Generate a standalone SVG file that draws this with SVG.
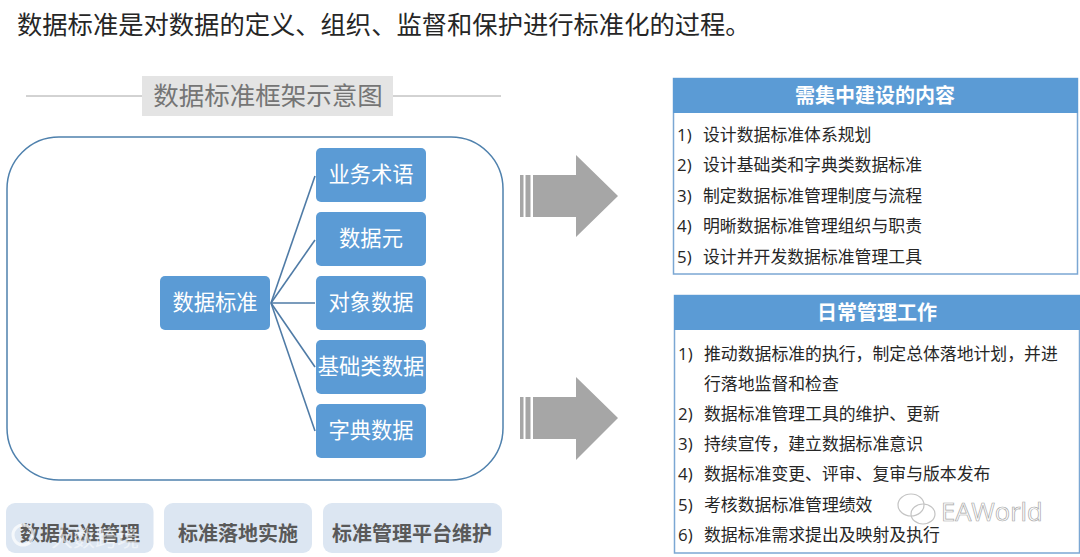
<svg xmlns="http://www.w3.org/2000/svg" width="1080" height="557" viewBox="0 0 1080 557">
<style>
text{font-family:"Noto Sans CJK SC","Noto Sans",sans-serif}
.n rect{fill:#5b9bd5;stroke:none}
.n text{fill:#fff;font-size:21.3px;text-anchor:middle}
.c line{stroke:#4f7ba6;stroke-width:1.6}
.b rect{fill:#dce6f2}
.b text{fill:#595959;font-size:20px;font-weight:700;text-anchor:middle}
.a{fill:#a6a6a6}
.p .h{fill:#5b9bd5}
.p .f{fill:#fff;stroke:#7ba7d3;stroke-width:1.5}
.p .t{fill:#fff;font-size:20px;font-weight:700;text-anchor:middle}
.l{fill:#262626;font-size:16.85px}
.d{font-family:"Open Sans",sans-serif}
.w{fill:none;stroke:#c4c4c4;stroke-width:1.2}
</style>
<rect width="1080" height="557" fill="#fff"/>
<text x="17" y="34" font-size="25.3" fill="#262626">数据标准是对数据的定义、组织、监督和保护进行标准化的过程。</text>
<g id="heading">
<line x1="26" y1="96" x2="501" y2="96" stroke="#a6a6a6" stroke-width="1"/>
<rect x="142" y="76" width="251" height="40" fill="#e4e4e4"/>
<text x="268" y="105" font-size="25.500" fill="#757575" text-anchor="middle">数据标准框架示意图</text>
</g>
<rect id="container" x="7" y="137" width="496" height="343" rx="52" fill="#fff" stroke="#4f81ad" stroke-width="1.5"/>
<g id="connectors" class="c">
<line x1="271" y1="303" x2="315" y2="176"/>
<line x1="271" y1="303" x2="315" y2="240"/>
<line x1="271" y1="303" x2="315" y2="303"/>
<line x1="271" y1="303" x2="315" y2="367"/>
<line x1="271" y1="303" x2="315" y2="431"/>
</g>
<g id="root" class="n"><rect x="160" y="276" width="110" height="54" rx="5"/><text x="215" y="310">数据标准</text></g>
<g id="term" class="n"><rect x="316" y="148" width="110" height="54" rx="5"/><text x="371" y="182">业务术语</text></g>
<g id="element" class="n"><rect x="316" y="212" width="110" height="54" rx="5"/><text x="371" y="246">数据元</text></g>
<g id="object" class="n"><rect x="316" y="276" width="110" height="54" rx="5"/><text x="371" y="310">对象数据</text></g>
<g id="basic" class="n"><rect x="316" y="340" width="110" height="54" rx="5"/><text x="371" y="374">基础类数据</text></g>
<g id="dict" class="n"><rect x="316" y="404" width="110" height="54" rx="5"/><text x="371" y="438">字典数据</text></g>
<g id="arrow1" class="a"><rect x="520" y="175" width="3.5" height="42"/><rect x="525.5" y="175" width="5" height="42"/><path d="M533 175H576V155L618 196L576 237V217H533Z"/></g>
<g id="arrow2" class="a"><rect x="520" y="397" width="3.5" height="42"/><rect x="525.5" y="397" width="5" height="42"/><path d="M533 397H576V377L618 418L576 460V439H533Z"/></g>
<g id="btn1" class="b"><rect x="6" y="503" width="147.500" height="50" rx="9"/><text x="80" y="541">数据标准管理</text></g>
<g id="btn2" class="b"><rect x="164" y="503" width="148" height="50" rx="9"/><text x="238" y="541">标准落地实施</text></g>
<g id="btn3" class="b"><rect x="323" y="503" width="179" height="50" rx="9"/><text x="412" y="541">标准管理平台维护</text></g>
<g id="panel1" class="p">
<rect class="f" x="673.500" y="78.500" width="404" height="195.500"/>
<rect class="h" x="673" y="78" width="405" height="35"/>
<text class="t" x="875" y="103">需集中建设的内容</text>
<g class="l">
<text class="d" x="677" y="140.500">1)</text><text x="703" y="140.500">设计数据标准体系规划</text>
<text class="d" x="677" y="171">2)</text><text x="703" y="171">设计基础类和字典类数据标准</text>
<text class="d" x="677" y="201.500">3)</text><text x="703" y="201.500">制定数据标准管理制度与流程</text>
<text class="d" x="677" y="232">4)</text><text x="703" y="232">明晰数据标准管理组织与职责</text>
<text class="d" x="677" y="262.500">5)</text><text x="703" y="262.500">设计并开发数据标准管理工具</text>
</g>
</g>
<g id="panel2" class="p">
<rect class="f" x="674.500" y="295.500" width="405" height="257.500"/>
<rect class="h" x="674" y="295" width="406" height="35"/>
<text class="t" x="877" y="320">日常管理工作</text>
<g class="l">
<text class="d" x="678" y="359.500">1)</text><text x="704" y="359.500">推动数据标准的执行，制定总体落地计划，并进</text>
<text x="704" y="389.500">行落地监督和检查</text>
<text class="d" x="678" y="419.500">2)</text><text x="704" y="419.500">数据标准管理工具的维护、更新</text>
<text class="d" x="678" y="449.500">3)</text><text x="704" y="449.500">持续宣传，建立数据标准意识</text>
<text class="d" x="678" y="480">4)</text><text x="704" y="480">数据标准变更、评审、复审与版本发布</text>
<text class="d" x="678" y="510.500">5)</text><text x="704" y="510.500">考核数据标准管理绩效</text>
<text class="d" x="678" y="541">6)</text><text x="704" y="541">数据标准需求提出及映射及执行</text>
</g>
</g>
<g id="watermark-right">
<ellipse class="w" cx="911" cy="505" rx="13" ry="11"/>
<ellipse class="w" cx="923" cy="514" rx="12" ry="10" fill="#fff"/>
<text x="941" y="521" font-size="25.500" fill="#fff" stroke="#a8a8a8" stroke-width="0.7" style="font-family:'Open Sans',sans-serif">EAWorld</text>
</g>
<g id="watermark-left">
<circle cx="23" cy="535" r="10" fill="none" stroke="#fff" stroke-opacity="0.7" stroke-width="3"/>
<text x="51" y="546" font-size="22" fill="#fff" fill-opacity="0.55">大数跨境</text>
</g>
</svg>
